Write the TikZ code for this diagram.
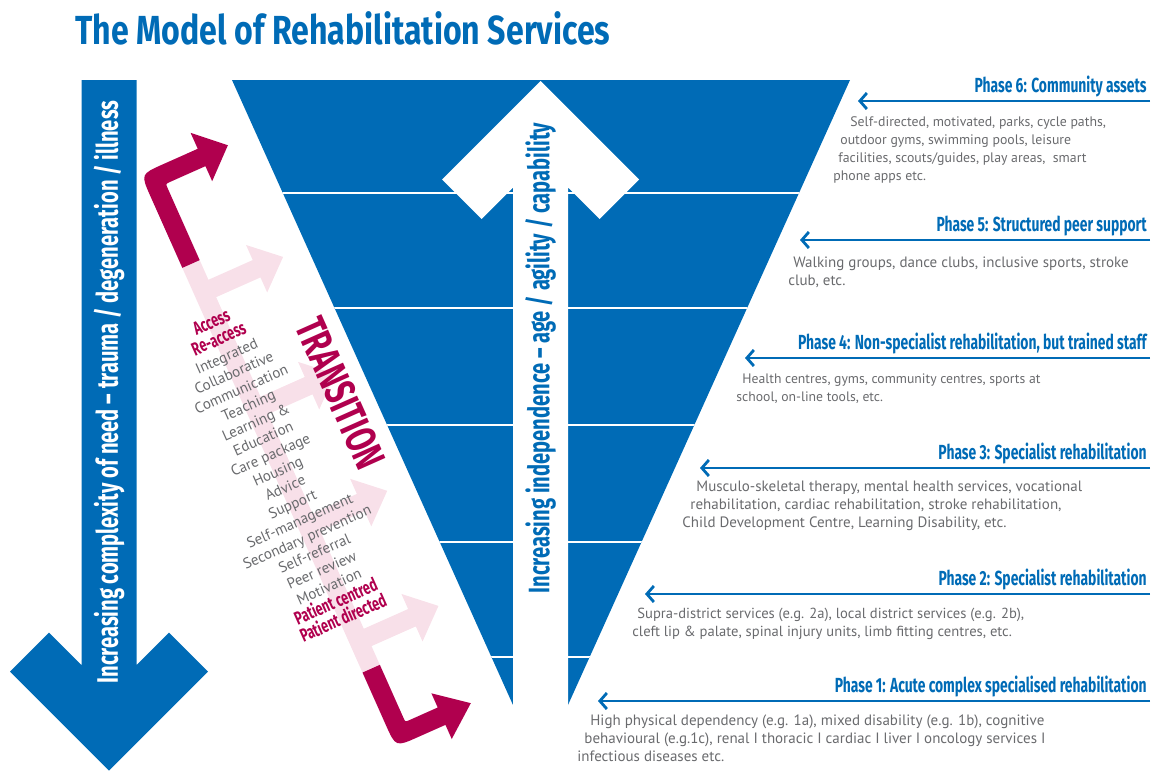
\documentclass[tikz,border=0pt]{standalone}
\usepackage{fontspec}
\usepackage{tikz}
\usetikzlibrary{arrows.meta,positioning}
\setmainfont{PT Sans}
\newfontfamily\headfont[FakeStretch=0.68]{Fira Sans}
\newfontfamily\titlefont[FakeStretch=0.79]{Fira Sans}
\definecolor{nhsblue}{RGB}{0,107,182}
\definecolor{crimson}{RGB}{176,0,78}
\definecolor{blush}{RGB}{248,224,233}
\definecolor{textgrey}{RGB}{105,106,109}
\newcommand{\redword}[1]{{\color{crimson}\headfont\bfseries\fontsize{9.3}{9}\selectfont #1}}
\newcommand{\bodysize}[1]{\fontsize{#1}{9}\selectfont}
\tikzset{
  phasearrow/.style={nhsblue, line width=1.4pt, -{Straight Barb[length=3.5pt,width=8pt]}},
  phaselabel/.style={anchor=base east, inner sep=0pt, text=nhsblue,
    font=\headfont\bfseries\fontsize{10.2}{12}\selectfont},
  phasetext/.style={anchor=north west, inner sep=0pt, align=left, text=textgrey},
  axislabel/.style={rotate=90, inner sep=0pt, font=\headfont\bfseries\fontsize{14.8}{16}\selectfont},
}
\begin{document}
\begin{tikzpicture}[x=0.5pt,y=-0.5pt]
\useasboundingbox (0,0) rectangle (1152,771);

\node[anchor=base west, inner sep=0pt, text=nhsblue,
  font=\titlefont\bfseries\fontsize{20.3}{24}\selectfont] (title) at (75,45)
  {The Model of Rehabilitation Services};

% funnel of services with its phase bands
\fill[nhsblue] (232,80) -- (850,80) -- (568,705) -- (513,705) -- cycle;
\begin{scope}
\clip (232,80) -- (850,80) -- (568,705) -- (513,705) -- cycle;
\foreach \y in {193,308,425,542,657}
  \draw[white, line width=0.8pt] (200,\y) -- (900,\y);
\end{scope}

% white arrow up the middle
\fill[white] (540.5,81) -- (639,179.5) -- (599.5,219) -- (568,187.5) -- (568,710)
  -- (513,710) -- (513,187.5) -- (481.5,219) -- (442,179.5) -- cycle;
\node[axislabel, text=nhsblue] (independence) at (540.5,358)
  {Increasing independence – age / agility / capability};

% blue arrow down the left side
\fill[nhsblue] (81.5,80) -- (81.5,665) -- (49,632.5) -- (10,671.5) -- (109,770.5)
  -- (208,671.5) -- (169,632.5) -- (136.5,665) -- (136.5,80) -- cycle;
\node[axislabel, text=white] (complexity) at (109,392)
  {Increasing complexity of need – trauma / degeneration / illness};

% transition band, drawn upright and turned to follow the funnel
\begin{scope}[shift={(191,264)}, rotate=24]
\fill[blush] (-9.5,0) rectangle (9.5,443);
\foreach \u in {31,159,287,413}
  \fill[blush] (9,\u-9.5) -- (58,\u-9.5) -- (58,\u-26) -- (87,\u) -- (58,\u+26)
    -- (58,\u+9.5) -- (9,\u+9.5) -- cycle;
\fill[crimson] (-9.5,0) -- (-9.5,-78) .. controls (-9.5,-102.5) .. (15,-102.5)
  -- (53,-102.5) -- (53,-120) -- (82,-93.5) -- (53,-67) -- (53,-83.5) -- (14,-83.5)
  .. controls (9.5,-83.5) .. (9.5,-79) -- (9.5,0) -- cycle;
\fill[crimson] (-9.5,443) -- (-9.5,500) .. controls (-9.5,524.5) .. (15,524.5)
  -- (45,524.5) -- (45,540) -- (77,515) -- (45,490) -- (45,505.5) -- (14,505.5)
  .. controls (9.5,505.5) .. (9.5,501) -- (9.5,443) -- cycle;
\node[transform shape, inner sep=0pt, align=center, text=textgrey,
  font=\fontsize{7.5}{9}\selectfont] (steps) at (-5,223.5)
  {\redword{Access}\\ \redword{Re-access}\\ Integrated\\ Collaborative\\
   Communication\\ Teaching\\ Learning \&\\ Education\\ Care package\\ Housing\\
   Advice\\ Support\\ Self-management\\ Secondary prevention\\ Self-referral\\
   Peer review\\ Motivation\\ \redword{Patient centred}\\ \redword{Patient directed}};
\node[transform shape, rotate=-90, inner sep=0pt, text=crimson,
  font=\headfont\bfseries\fontsize{21.5}{24}\selectfont] (transition) at (84,179)
  {TRANSITION};
\end{scope}

% phases, from community assets down to acute care
\foreach \n/\y/\tip in {6/101/858,5/240/800,4/358/745,3/468/700,2/594/645,1/701/598}{
  \coordinate (from\n) at (1150,\y);
  \coordinate (to\n) at (\tip,\y);
  \draw[phasearrow] (from\n) -- (to\n);
}
\node[phaselabel] (lab6) at (1147,92) {Phase 6: Community assets};
\node[phaselabel] (lab5) at (1147,231) {Phase 5: Structured peer support};
\node[phaselabel] (lab4) at (1147,349) {Phase 4: Non-specialist rehabilitation, but trained staff};
\node[phaselabel] (lab3) at (1147,459) {Phase 3: Specialist rehabilitation};
\node[phaselabel] (lab2) at (1147,585) {Phase 2: Specialist rehabilitation};
\node[phaselabel] (lab1) at (1147,692) {Phase 1: Acute complex specialised rehabilitation};

\node[phasetext, font=\bodysize{6.9}] (txt6) at (833,116)
  {\hspace*{8.5pt}Self-directed, motivated, parks, cycle paths,\\
   \hspace*{3.5pt}outdoor gyms, swimming pools, leisure\\
   \hspace*{2.5pt}facilities, scouts/guides, play areas,\ \ smart\\
   phone apps etc.};
\node[phasetext, font=\bodysize{7.5}] (txt5) at (788,256)
  {\hspace*{2.5pt}Walking groups, dance clubs, inclusive sports, stroke\\
   club, etc.};
\node[phasetext, font=\bodysize{6.85}] (txt4) at (736,373)
  {\hspace*{3pt}Health centres, gyms, community centres, sports at\\
   school, on-line tools, etc.};
\node[phasetext, font=\bodysize{7.5}] (txt3) at (682,480)
  {\hspace*{7pt}Musculo-skeletal therapy, mental health services, vocational\\
   \hspace*{4pt}rehabilitation, cardiac rehabilitation, stroke rehabilitation,\\
   Child Development Centre, Learning Disability, etc.};
\node[phasetext, font=\bodysize{7.3}] (txt2) at (632,608)
  {\hspace*{2.5pt}Supra-district services (e.g. 2a), local district services (e.g. 2b),\\
   cleft lip \& palate, spinal injury units, limb fitting centres, etc.};
\node[phasetext, font=\bodysize{7.5}] (txt1) at (577,714)
  {\hspace*{6.5pt}High physical dependency (e.g. 1a), mixed disability (e.g. 1b), cognitive\\
   \hspace*{3.5pt}behavioural (e.g.1c), renal I thoracic I cardiac I liver I oncology services I\\
   infectious diseases etc.};
\end{tikzpicture}
\end{document}
